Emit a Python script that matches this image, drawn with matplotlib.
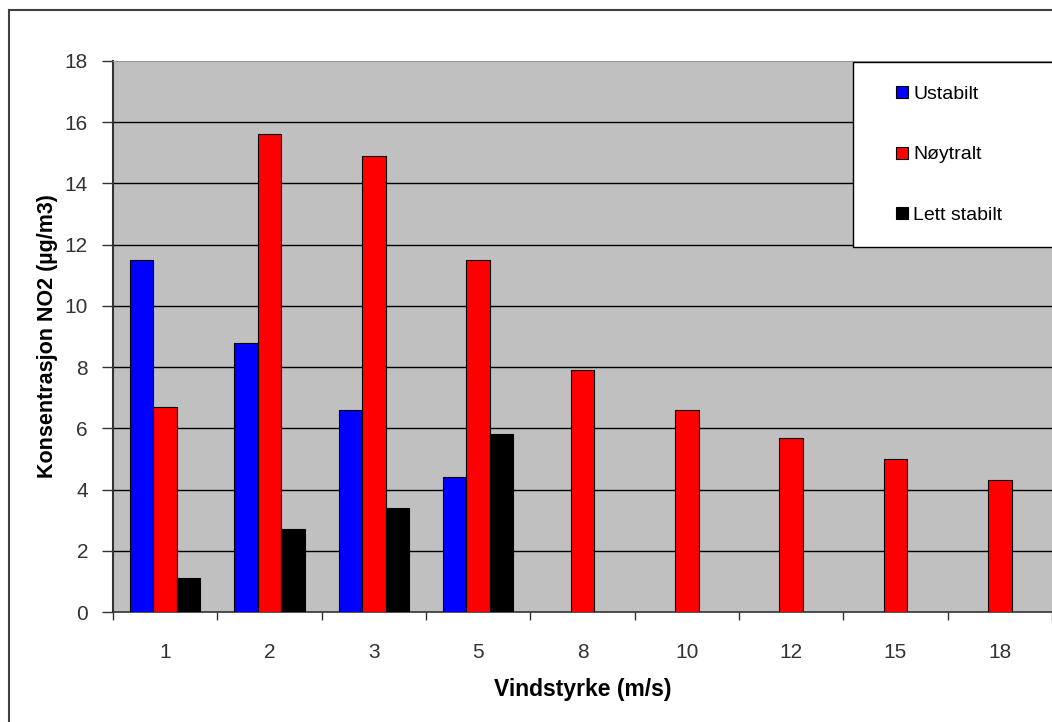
import numpy as np
import matplotlib
matplotlib.use('Agg')
from matplotlib import pyplot as plt
from matplotlib.patches import Rectangle
from matplotlib.lines import Line2D

# 数据
categories = ['1', '2', '3', '5', '8', '10', '12', '15', '18']
ustabilt = [11.5, 8.8, 6.6, 4.4, np.nan, np.nan, np.nan, np.nan, np.nan]
noytralt = [6.7, 15.6, 14.9, 11.5, 7.9, 6.6, 5.7, 5.0, 4.3]
lett_stabilt = [1.1, 2.7, 3.4, 5.8, np.nan, np.nan, np.nan, np.nan, np.nan]
series_names = ['Ustabilt', 'Nøytralt', 'Lett stabilt']
series_colors = ['#0000FF', '#FF0000', '#000000']
y_ticks = [0, 2, 4, 6, 8, 10, 12, 14, 16, 18]

plt.rcParams['font.family'] = ['Liberation Sans', 'DejaVu Sans']

W, H = 1052, 722
fig = plt.figure(figsize=(W / 100, H / 100), dpi=100)
ax = fig.add_axes([113 / W, 1 - 612 / H, 1 - 113 / W, (612 - 61) / H])
ax.set_facecolor('#C0C0C0')

# 画柱子
x = np.arange(len(categories))
w = 0.225
for i, (vals, c) in enumerate(zip([ustabilt, noytralt, lett_stabilt], series_colors)):
    ax.bar(x + (i - 1) * w, vals, width=w, color=c, edgecolor='black', linewidth=0.8, zorder=3)

# 坐标轴
ax.set_xlim(-0.5, len(categories) - 0.5)
ax.set_ylim(0, 18)
ax.set_yticks(y_ticks)
ax.set_yticklabels([str(t) for t in y_ticks], fontsize=15, color='#333333')
ax.set_xticks(x)
ax.set_xticklabels(categories, fontsize=15, color='#333333')
ax.set_xticks(np.arange(len(categories) + 1) - 0.5, minor=True)
ax.tick_params(axis='x', which='major', length=0, pad=22)
ax.tick_params(axis='x', which='minor', length=6, width=1, color='#333333', direction='out')
ax.tick_params(axis='y', length=8, width=1, color='#333333', direction='out', pad=10)

for yv in y_ticks[1:-1]:
    ax.axhline(yv, color='black', linewidth=1, zorder=1)

ax.spines['left'].set_color('#333333')
ax.spines['left'].set_linewidth(1.5)
ax.spines['bottom'].set_color('#333333')
ax.spines['bottom'].set_linewidth(1.2)
ax.spines['top'].set_color('#999999')
ax.spines['right'].set_visible(False)

ax.set_xlabel('Vindstyrke (m/s)', fontsize=16.5, fontweight='bold', labelpad=12)
ax.set_ylabel('Konsentrasjon NO2 (µg/m3)', fontsize=15.5, fontweight='bold', labelpad=5)

# 图例
handles = [Line2D([], [], marker='s', linestyle='none', markersize=9,
                  markerfacecolor=c, markeredgecolor='black', markeredgewidth=0.8)
           for c in series_colors]
leg = ax.legend(handles, series_names, loc='upper left',
                bbox_to_anchor=(0.788, 0.66, 0.3, 0.338), mode='expand',
                borderaxespad=0, fancybox=False, framealpha=1, edgecolor='black',
                fontsize=14, handlelength=2.6, handletextpad=-0.7,
                labelspacing=2.2, borderpad=1.2)
leg.get_frame().set_linewidth(1)
leg.set_zorder(5)

# 外框
fig.patches.append(Rectangle((9 / W, -0.1), 1.2, 1.1 - 10 / H, transform=fig.transFigure,
                             fill=False, edgecolor='#404040', linewidth=1.5))

fig.savefig('out.png', dpi=100)
